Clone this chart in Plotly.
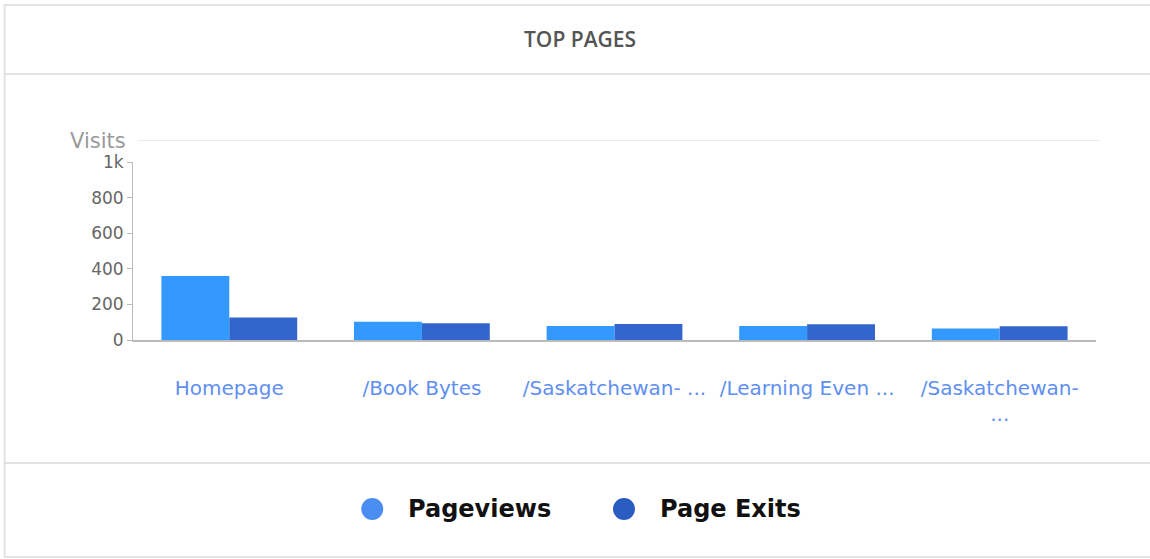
import plotly.graph_objects as go

categories = ["Homepage", "/Book Bytes", "/Saskatchewan- ...", "/Learning Even ...", "/Saskatchewan-<br>..."]
pageviews = [360, 103, 79, 79, 64]
page_exits = [127, 94, 90, 88, 77]
y_ticks = [0, 200, 400, 600, 800, 1000]
y_tick_labels = ["0", "200", "400", "600", "800", "1k"]

W, H = 1150, 559
L, R, T, B = 132.5, 1096.5, 162, 340  # plot area in pixels

def px(x):
    return (x - L) / (R - L)

def py(y):
    return (B - y) / (B - T)

fig = go.Figure()
fig.add_trace(go.Bar(x=categories, y=pageviews, name="Pageviews",
                     marker=dict(color="#3399ff", line=dict(width=0)), showlegend=False))
fig.add_trace(go.Bar(x=categories, y=page_exits, name="Page Exits",
                     marker=dict(color="#3366cc", line=dict(width=0)), showlegend=False))

shapes = []
border = "#e3e3e3"
# card frame
for yy in [5, 74, 463, 557]:
    shapes.append(dict(type="line", xref="paper", yref="paper", x0=px(3), x1=px(1152),
                       y0=py(yy), y1=py(yy), line=dict(color=border, width=2)))
shapes.append(dict(type="line", xref="paper", yref="paper", x0=px(4), x1=px(4),
                   y0=py(5), y1=py(557), line=dict(color=border, width=2)))
# top grid line next to "Visits"
shapes.append(dict(type="line", xref="paper", yref="paper", x0=px(137), x1=px(1100),
                   y0=py(140.5), y1=py(140.5), line=dict(color="#ebebeb", width=1)))
# legend circles
shapes.append(dict(type="circle", xref="paper", yref="paper", x0=px(361), x1=px(383),
                   y0=py(498), y1=py(520), fillcolor="#4a8ef2", line=dict(width=0)))
shapes.append(dict(type="circle", xref="paper", yref="paper", x0=px(613), x1=px(635),
                   y0=py(498), y1=py(520), fillcolor="#2a5cc2", line=dict(width=0)))

annotations = [
    dict(text="TOP PAGES", xref="paper", yref="paper", x=px(580), y=py(39),
         showarrow=False, xanchor="center", yanchor="middle",
         font=dict(family="Open Sans", size=21, color="#555555", weight=600)),
    dict(text="Visits", xref="paper", yref="paper", x=px(127), y=py(141),
         showarrow=False, xanchor="right", yanchor="middle",
         font=dict(family="DejaVu Sans", size=21, color="#999999")),
    dict(text="Pageviews", xref="paper", yref="paper", x=px(406), y=py(509),
         showarrow=False, xanchor="left", yanchor="middle",
         font=dict(family="DejaVu Sans", size=24, color="#111111", weight="bold")),
    dict(text="Page Exits", xref="paper", yref="paper", x=px(658), y=py(509),
         showarrow=False, xanchor="left", yanchor="middle",
         font=dict(family="DejaVu Sans", size=24, color="#111111", weight="bold")),
]

fig.update_layout(
    width=W, height=H,
    margin=dict(l=L, r=W - R, t=T, b=H - B, pad=0),
    paper_bgcolor="white", plot_bgcolor="white",
    barmode="group", bargap=0.295, bargroupgap=0,
    shapes=shapes, annotations=annotations,
    showlegend=False,
    xaxis=dict(range=[-0.5, 4.5], showgrid=False, showline=True, linecolor="#bbbbbb",
               linewidth=2, ticks="", ticklabelstandoff=29,
               tickfont=dict(family="DejaVu Sans", size=20, color="#5f8ff0"),
               fixedrange=True),
    yaxis=dict(range=[0, 1000], tickvals=y_ticks, ticktext=y_tick_labels,
               showgrid=False, zeroline=False, showline=True, linecolor="#bbbbbb",
               linewidth=1, ticks="outside", ticklen=5, tickcolor="#bbbbbb",
               tickfont=dict(family="DejaVu Sans", size=17, color="#666666"),
               ticklabelstandoff=0, fixedrange=True),
)

fig.write_html("out.html")
